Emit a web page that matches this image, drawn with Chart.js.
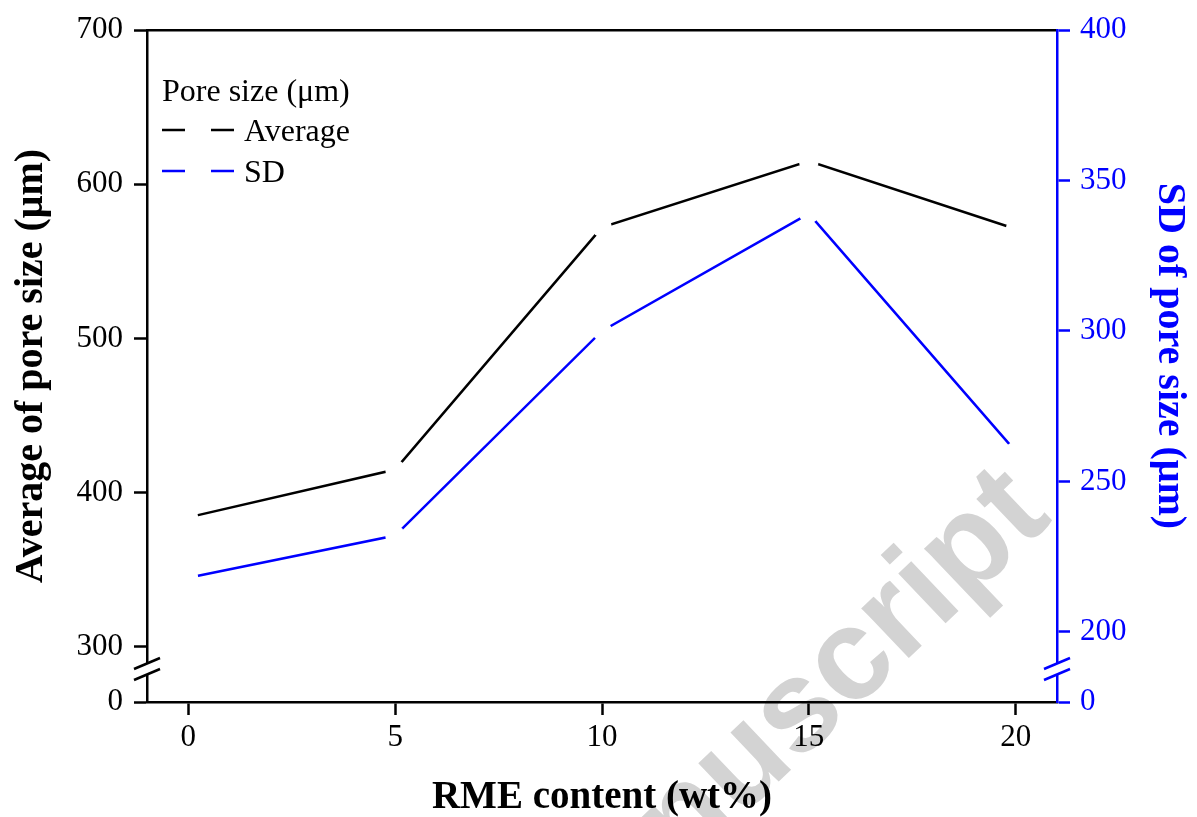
<!DOCTYPE html>
<html>
<head>
<meta charset="utf-8">
<title>Pore size vs RME content</title>
<script src="https://cdn.jsdelivr.net/npm/chart.js@4.4.1/dist/chart.umd.min.js"></script>
<style>
  html, body { margin: 0; padding: 0; background: #fff; }
  canvas { display: block; }
</style>
</head>
<body>
<canvas id="poreChart" width="1197" height="817"></canvas>
<script>
// RME content (wt%)
const rmeContent = [0, 5, 10, 15, 20];
// pore size in µm: mean and standard deviation
const avgPoreSize = [384, 415, 572, 615, 571];
const sdPoreSize = [218, 232, 300, 339, 260];

const xTicks = [0, 5, 10, 15, 20];
const leftTicks = [300, 400, 500, 600, 700];
const rightTicks = [200, 250, 300, 350, 400];
const breakLabel = '0';

const SERIF = "'Liberation Serif', 'Times New Roman', serif";
const BLUE = '#0000ff';

const toPoints = ys => rmeContent.map((x, i) => ({ x, y: ys[i] }));

// white page + the grey diagonal stamp behind everything
const watermark = {
    id: 'watermark',
    beforeDraw(chart) {
        const { ctx, width, height } = chart;
        ctx.save();
        ctx.fillStyle = '#fff';
        ctx.fillRect(0, 0, width, height);
        ctx.translate(1054, 520);
        ctx.rotate(-0.76);
        ctx.font = "bold 130px 'Liberation Sans', Arial, sans-serif";
        ctx.fillStyle = '#d3d3d3';
        ctx.textAlign = 'right';
        ctx.textBaseline = 'alphabetic';
        ctx.fillText('Accepted Manuscript', 0, 0);
        ctx.restore();
    }
};

// "//" break marks near the bottom of both y axes
const axisBreak = {
    id: 'axisBreak',
    afterDraw(chart) {
        const { ctx, chartArea } = chart;
        const yc = chartArea.bottom - 33;
        [['y', '#000'], ['y2', BLUE]].forEach(([id, color]) => {
            const ax = chart.scales[id];
            const x = id === 'y' ? ax.right : ax.left;
            ctx.save();
            ctx.fillStyle = '#fff';
            ctx.fillRect(x - 3, yc - 5.5, 6, 11);
            ctx.strokeStyle = color;
            ctx.lineWidth = 2.5;
            [-5.5, 5.5].forEach(d => {
                ctx.beginPath();
                ctx.moveTo(x - 13, yc + d + 5.5);
                ctx.lineTo(x + 13, yc + d - 5.5);
                ctx.stroke();
            });
            ctx.restore();
        });
    }
};

// Origin-style legend: title, then "—  —" sample per series
const seriesLegend = {
    id: 'seriesLegend',
    afterDraw(chart) {
        const { ctx, chartArea } = chart;
        const x0 = chartArea.left + 15;
        ctx.save();
        ctx.font = `32px ${SERIF}`;
        ctx.fillStyle = '#000';
        ctx.textBaseline = 'alphabetic';
        ctx.fillText('Pore size (\u03bcm)', x0, 101);
        chart.data.datasets.forEach((ds, i) => {
            const y = 130 + i * 41;
            ctx.strokeStyle = ds.borderColor;
            ctx.lineWidth = 2.5;
            ctx.beginPath();
            ctx.moveTo(x0, y); ctx.lineTo(x0 + 23, y);
            ctx.moveTo(x0 + 49, y); ctx.lineTo(x0 + 72, y);
            ctx.stroke();
            ctx.fillStyle = '#000';
            ctx.fillText(ds.label, x0 + 82, y + 11);
        });
        ctx.restore();
    }
};

const lineStyle = {
    borderWidth: 2.5,
    tension: 0,
    fill: false,
    // white dots leave the little gap around every data point
    pointRadius: 10,
    pointHoverRadius: 10,
    pointBorderWidth: 0,
    pointBackgroundColor: '#fff',
    pointBorderColor: '#fff'
};

const tickFont = { family: SERIF, size: 31 };
const titleFont = { family: SERIF, size: 40, weight: 'bold' };

new Chart(document.getElementById('poreChart'), {
    type: 'line',
    data: {
        datasets: [
            { label: 'Average', data: toPoints(avgPoreSize), yAxisID: 'y', borderColor: '#000', ...lineStyle },
            { label: 'SD', data: toPoints(sdPoreSize), yAxisID: 'y2', borderColor: BLUE, ...lineStyle }
        ]
    },
    options: {
        responsive: false,
        devicePixelRatio: 1,
        animation: false,
        events: [],
        layout: { padding: { top: 30, left: 0, right: 0, bottom: 0 } },
        plugins: { legend: { display: false }, tooltip: { enabled: false } },
        scales: {
            x: {
                type: 'linear',
                position: 'bottom',
                min: -1,
                max: 21,
                afterBuildTicks: s => { s.ticks = xTicks.map(v => ({ value: v })); },
                afterFit: s => { s.height = 115; },
                grid: { drawOnChartArea: false, tickLength: 13, tickWidth: 2.5, tickColor: '#000' },
                border: { color: '#000', width: 2.5 },
                ticks: { color: '#000', font: tickFont, padding: 4, maxRotation: 0 },
                title: {
                    display: true, text: 'RME content (wt%)', color: '#000',
                    font: { ...titleFont, size: 39 }, padding: { top: 0, bottom: -4 }
                }
            },
            xTop: {
                type: 'linear',
                position: 'top',
                min: -1,
                max: 21,
                afterFit: s => { s.height = 0; },
                grid: { drawOnChartArea: false, drawTicks: false },
                border: { color: '#000', width: 2.5 },
                ticks: { display: false }
            },
            y: {
                type: 'linear',
                position: 'left',
                min: 264.3,
                max: 700,
                afterBuildTicks: s => { s.ticks = [s.min, ...leftTicks].map(v => ({ value: v })); },
                afterFit: s => { s.width = 147; },
                grid: { drawOnChartArea: false, tickLength: 13, tickWidth: 2.5, tickColor: '#000' },
                border: { color: '#000', width: 2.5 },
                ticks: {
                    color: '#000', font: tickFont, padding: 11,
                    callback(v) { return v === this.min ? breakLabel : v; }
                },
                title: { display: true, text: 'Average of pore size (\u03bcm)', color: '#000', font: titleFont, padding: { top: 8, bottom: 0 } }
            },
            y2: {
                type: 'linear',
                position: 'right',
                min: 176.7,
                max: 400,
                afterBuildTicks: s => { s.ticks = [s.min, ...rightTicks].map(v => ({ value: v })); },
                afterFit: s => { s.width = 140; },
                grid: { drawOnChartArea: false, tickLength: 13, tickWidth: 2.5, tickColor: BLUE },
                border: { color: BLUE, width: 2.5 },
                ticks: {
                    color: BLUE, font: tickFont, padding: 10,
                    callback(v) { return v === this.min ? breakLabel : v; }
                },
                title: { display: true, text: 'SD of pore size (\u03bcm)\u2002', color: BLUE, font: titleFont, padding: { top: 4, bottom: 0 } }
            }
        }
    },
    plugins: [watermark, axisBreak, seriesLegend]
});
</script>
</body>
</html>
